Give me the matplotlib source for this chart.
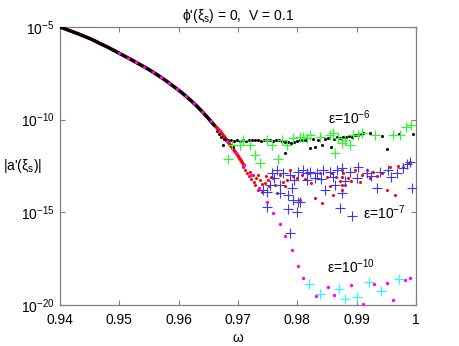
import numpy as np
import matplotlib
matplotlib.use("Agg")
import matplotlib.pyplot as plt
from matplotlib.ticker import FixedLocator, FixedFormatter, NullLocator

plt.rcParams['font.family'] = ['Liberation Sans', 'DejaVu Sans']
plt.rcParams['mathtext.fontset'] = 'custom'
plt.rcParams['mathtext.rm'] = 'Liberation Sans'
plt.rcParams['mathtext.it'] = 'Liberation Sans'
plt.rcParams['mathtext.bf'] = 'Liberation Sans:bold'

# ---------------- data (omega, log10 |a'(xi_s)|) ----------------
smooth_omega = [0.940, 0.941, 0.942, 0.943, 0.944, 0.945, 0.946, 0.947, 0.948, 0.949,
                0.950, 0.951, 0.952, 0.953, 0.954, 0.955, 0.956, 0.957, 0.958, 0.959,
                0.960, 0.961, 0.962, 0.963, 0.964, 0.965, 0.966, 0.967, 0.968, 0.969,
                0.970, 0.971]
smooth_log = [-5.00, -5.12, -5.24, -5.36, -5.49, -5.62, -5.77, -5.93, -6.08, -6.25,
              -6.42, -6.59, -6.76, -6.94, -7.12, -7.30, -7.50, -7.71, -7.93, -8.17,
              -8.41, -8.67, -8.95, -9.25, -9.58, -9.93, -10.30, -10.62, -11.05, -11.50,
              -11.95, -12.45]
black_curve_end = 0.966   # eps=1e-6 dots follow the curve up to here
red_curve_end = 0.971     # eps=1e-7 dots follow the curve up to here

black_omega = [0.9664, 0.9668, 0.9672, 0.9675, 0.9676, 0.9680, 0.9684, 0.9688, 0.9692, 0.9694,
               0.9699, 0.9704, 0.9709, 0.9714, 0.9719, 0.9724, 0.9729, 0.9734, 0.9739, 0.9744,
               0.9749, 0.9754, 0.9759, 0.9764, 0.9769, 0.9774, 0.9779, 0.9779, 0.9784, 0.9789,
               0.9794, 0.9799, 0.9804, 0.9809, 0.9814, 0.9821, 0.9826, 0.9830, 0.9835, 0.9841,
               0.9846, 0.9852, 0.9857, 0.9862, 0.9867, 0.9872, 0.9877, 0.9882, 0.9887, 0.9892,
               0.9897, 0.9902, 0.9907, 0.9911, 0.9923, 0.9943, 0.9951, 0.9972, 0.9995]
black_log = [-10.60, -10.80, -10.95, -11.37, -11.05, -11.10, -11.12, -11.08, -11.48, -11.14,
             -11.10, -11.13, -11.10, -11.15, -11.10, -11.12, -11.08, -11.12, -11.15, -11.10,
             -11.12, -11.08, -11.15, -11.12, -11.10, -11.15, -11.20, -11.80, -11.22, -11.26,
             -11.22, -11.15, -11.12, -11.08, -11.10, -11.53, -11.05, -11.48, -11.10, -11.37,
             -11.02, -11.00, -11.48, -11.05, -10.95, -11.00, -10.92, -10.95, -10.88, -10.92,
             -10.85, -10.83, -10.80, -10.72, -10.72, -10.90, -11.58, -10.77, -10.80]

green_omega = [0.9683, 0.9690, 0.9703, 0.9708, 0.9720, 0.9729, 0.9737, 0.9749, 0.9757, 0.9767,
               0.9774, 0.9783, 0.9793, 0.9805, 0.9810, 0.9816, 0.9821, 0.9838, 0.9855, 0.9860,
               0.9864, 0.9869, 0.9875, 0.9880, 0.9889, 0.9894, 0.9902, 0.9909, 0.9931, 0.9961,
               0.9973, 0.9983, 0.9992]
green_log = [-12.12, -11.37, -11.37, -11.10, -11.37, -11.91, -12.34, -11.10, -11.37, -12.12,
             -11.10, -11.37, -10.99, -10.94, -10.94, -10.99, -10.83, -10.94, -10.83, -10.72,
             -11.80, -10.99, -11.26, -11.10, -11.37, -10.83, -10.83, -10.72, -10.83, -10.83,
             -10.83, -10.40, -10.29]

red_omega = [0.9708, 0.9712, 0.9715, 0.9718, 0.9720, 0.9722, 0.9725, 0.9727, 0.9729, 0.9731,
             0.9733, 0.9734, 0.9737, 0.9740, 0.9741, 0.9745, 0.9747, 0.9751, 0.9753, 0.9755,
             0.9759, 0.9762, 0.9766, 0.9771, 0.9776, 0.9779, 0.9783, 0.9788, 0.9792, 0.9799,
             0.9804, 0.9808, 0.9813, 0.9818, 0.9823, 0.9830, 0.9838, 0.9842, 0.9850, 0.9855,
             0.9858, 0.9860, 0.9866, 0.9872, 0.9875, 0.9875, 0.9875, 0.9876, 0.9877, 0.9880,
             0.9885, 0.9890, 0.9897, 0.9905, 0.9909, 0.9917, 0.9922, 0.9927, 0.9935, 0.9943,
             0.9951, 0.9956, 0.9965, 0.9970, 0.9978, 0.9986, 0.9990]
red_log = [-12.56, -12.70, -12.90, -13.05, -12.80, -13.20, -13.00, -13.36, -13.53, -13.15,
           -13.00, -13.80, -13.26, -13.45, -13.90, -13.40, -13.05, -13.26, -13.60, -13.10,
           -13.15, -13.50, -13.96, -12.99, -13.36, -13.60, -13.26, -12.72, -13.05, -13.15,
           -14.34, -12.99, -13.20, -12.88, -13.40, -14.23, -12.88, -14.50, -13.09, -13.60,
           -12.88, -14.07, -13.09, -13.30, -12.70, -13.10, -13.50, -13.80, -12.88, -13.53,
           -13.15, -13.30, -12.72, -13.36, -12.99, -12.72, -13.15, -12.83, -13.05, -12.88,
           -13.80, -12.56, -14.07, -12.50, -12.56, -12.34, -12.30]

blue_omega = [0.9742, 0.9749, 0.9749, 0.9754, 0.9757, 0.9760, 0.9766, 0.9771, 0.9771, 0.9776,
              0.9784, 0.9784, 0.9788, 0.9788, 0.9791, 0.9793, 0.9795, 0.9799, 0.9801, 0.9801,
              0.9805, 0.9810, 0.9816, 0.9816, 0.9821, 0.9830, 0.9833, 0.9840, 0.9843, 0.9847,
              0.9855, 0.9860, 0.9864, 0.9867, 0.9872, 0.9875, 0.9875, 0.9880, 0.9889, 0.9892,
              0.9900, 0.9902, 0.9917, 0.9925, 0.9934, 0.9939, 0.9953, 0.9958, 0.9968, 0.9978,
              0.9985, 0.9990, 0.9993]
blue_log = [-13.80, -13.90, -14.71, -13.53, -12.88, -13.15, -12.72, -13.53, -13.96, -12.88,
            -14.07, -14.82, -12.99, -16.12, -13.69, -14.34, -13.26, -14.98, -12.83, -14.44,
            -14.44, -12.72, -12.88, -13.26, -12.83, -13.15, -12.88, -13.20, -12.72, -13.80,
            -12.83, -13.10, -13.53, -12.72, -14.77, -12.61, -13.96, -13.30, -12.83, -15.20,
            -13.15, -12.56, -12.88, -13.05, -13.69, -12.83, -12.72, -13.10, -12.88, -12.61,
            -12.39, -12.29, -13.69]

magenta_omega = [0.9500, 0.9514, 0.9528, 0.9542, 0.9556, 0.9570, 0.9584, 0.9598, 0.9612, 0.9626,
                 0.9640, 0.9654, 0.9668, 0.9682, 0.9696, 0.9710, 0.9722, 0.9735, 0.9749, 0.9759,
                 0.9771, 0.9780, 0.9791, 0.9801, 0.9810, 0.9831, 0.9851, 0.9861, 0.9891, 0.9911,
                 0.9930, 0.9951, 0.9961, 0.9981, 0.9990]
magenta_log = [-6.42, -6.66, -6.90, -7.15, -7.42, -7.71, -8.02, -8.36, -8.73, -9.12,
               -9.58, -10.07, -10.62, -11.14, -11.78, -12.45, -13.00, -13.70, -14.44, -15.04,
               -15.63, -16.28, -17.03, -17.88, -18.56, -19.52, -19.01, -19.45, -18.92, -19.95,
               -18.87, -18.82, -19.73, -18.65, -18.56]

cyan_omega = [0.9820, 0.9839, 0.9870, 0.9881, 0.9901, 0.9921, 0.9941, 0.9971]
cyan_log = [-18.89, -19.41, -19.14, -19.70, -19.55, -18.78, -19.25, -18.60]

xticks = [0.94, 0.95, 0.96, 0.97, 0.98, 0.99, 1.0]
xtick_labels = ['0.94', '0.95', '0.96', '0.97', '0.98', '0.99', '1']
yticks_exp = [-20, -15, -10, -5]

labels = [(0.9852, -9.9, r'ε=10$^{-6}$'),
          (0.9911, -15.0, r'ε=10$^{-7}$'),
          (0.9850, -17.95, r'ε=10$^{-10}$')]

# ---------------- figure ----------------
fig = plt.figure(figsize=(4.6, 3.46), dpi=100)
ax = fig.add_axes([0.1304, 0.1185, 0.7739, 0.8035])

so = np.array(smooth_omega)
sl = np.array(smooth_log)
rm = so <= red_curve_end + 1e-9
bm = so <= black_curve_end + 1e-9

dot = dict(linestyle='none', marker='o', ms=2.2, mew=0)
plus = dict(linestyle='none', marker='+', ms=6.5, mew=0.8)

ax.plot(so[rm], 10**sl[rm], '-', color='red', lw=2.4, zorder=2)
ax.plot(red_omega, 10**np.array(red_log), color='red', zorder=3, **dot)
ax.plot(blue_omega, 10**np.array(blue_log), color='#3838ff', zorder=3, **plus)
ax.plot(so[bm], 10**sl[bm], '-', color='black', lw=2.4, zorder=4)
ax.plot(black_omega, 10**np.array(black_log), color='black', zorder=4, **dot)
ax.plot(green_omega, 10**np.array(green_log), color='#22ff22', zorder=4, **plus)
ax.plot(magenta_omega, 10**np.array(magenta_log), color='#ff00ff', zorder=5,
        linestyle='none', marker='o', ms=2.4, mew=0)
ax.plot(cyan_omega, 10**np.array(cyan_log), color='#22ffff', zorder=5, **plus)

ax.set_yscale('log')
ax.set_xlim(0.94, 1.0)
ax.set_ylim(1e-20, 1e-5)
ax.xaxis.set_major_locator(FixedLocator(xticks))
ax.xaxis.set_major_formatter(FixedFormatter(xtick_labels))
ax.yaxis.set_major_locator(FixedLocator([10.0**e for e in yticks_exp]))
ax.yaxis.set_minor_locator(NullLocator())

for s in ax.spines.values():
    s.set_color('#808080')
    s.set_linewidth(0.9)
ax.tick_params(which='both', direction='in', top=True, right=True, length=3.5,
               width=0.8, color='#808080', labelsize=10)
ax.tick_params(axis='x', pad=6)
ax.tick_params(axis='y', pad=4)

for x, ly, t in labels:
    ax.text(x, 10**ly, t, fontsize=10, ha='left', va='center')

ax.set_title("ϕ'(ξ$_s$) = 0,  V = 0.1", fontsize=10, pad=5)
ax.set_xlabel('ω', fontsize=10, labelpad=3)
ax.set_ylabel("|a'(ξ$_s$)|", fontsize=10, rotation=0, ha='right', va='center')
ax.yaxis.set_label_coords(-0.05, 0.5)

fig.savefig('out.png', dpi=100)
